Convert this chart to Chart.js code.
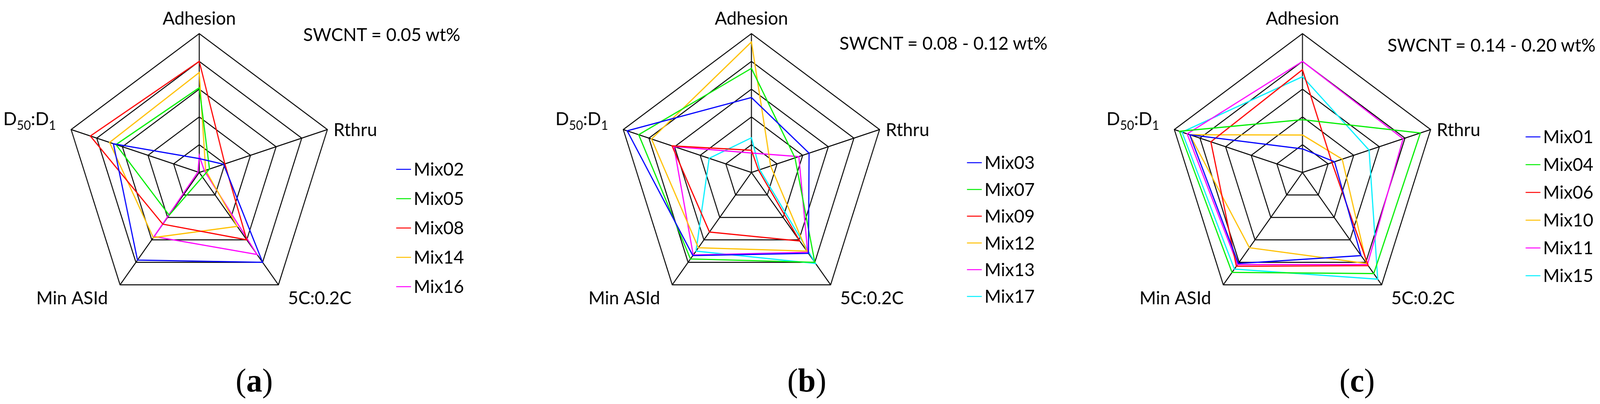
<!DOCTYPE html>
<html>
<head>
<meta charset="utf-8">
<title>SWCNT radar charts</title>
<script src="https://cdn.jsdelivr.net/npm/chart.js@4.4.1/dist/chart.umd.min.js"></script>
<style>
	html, body { margin: 0; padding: 0; background: #fff; overflow: hidden; }
	#stage { position: absolute; left: 0; top: 0; width: 4216px; height: 1033px; transform-origin: 0 0; }
	.panel { position: absolute; top: 0; height: 1033px; }
	#overlay { position: absolute; left: 0; top: 0; }
</style>
</head>
<body>
<div id="stage">
	<div class="panel" id="panelA" style="left:0px;width:1405px;"><canvas id="chartA"></canvas></div>
	<div class="panel" id="panelB" style="left:1405px;width:1405px;"><canvas id="chartB"></canvas></div>
	<div class="panel" id="panelC" style="left:2810px;width:1406px;"><canvas id="chartC"></canvas></div>
	<svg id="overlay" width="4216" height="1033" xmlns="http://www.w3.org/2000/svg"></svg>
</div>

<script>
// axes, clockwise from the top
var axisLabels = ['Adhesion', 'Rthru', '5C:0.2C', 'Min ASId', 'D50:D1'];
var gridTicks = [0, 0.2, 0.4, 0.6, 0.8, 1.0];

// (a) SWCNT = 0.05 wt%
var titleA = 'SWCNT = 0.05 wt%';
var namesA = ['Mix02', 'Mix05', 'Mix08', 'Mix14', 'Mix16'];
var mix02 = [0.10, 0.19, 0.80, 0.78, 0.67];
var mix05 = [0.61, 0.08, 0.04, 0.38, 0.65];
var mix08 = [0.80, 0.20, 0.60, 0.46, 0.85];
var mix14 = [0.72, 0.05, 0.48, 0.58, 0.70];
var mix16 = [0.12, 0.04, 0.73, 0.57, 0.01];

// (b) SWCNT = 0.08 - 0.12 wt%
var titleB = 'SWCNT = 0.08 - 0.12 wt%';
var namesB = ['Mix03', 'Mix07', 'Mix09', 'Mix12', 'Mix13', 'Mix17'];
var mix03 = [0.54, 0.45, 0.72, 0.74, 0.97];
var mix07 = [0.75, 0.34, 0.80, 0.77, 0.88];
var mix09 = [0.16, 0.055, 0.61, 0.53, 0.62];
var mix12 = [0.94, 0.15, 0.70, 0.67, 0.78];
var mix13 = [0.14, 0.37, 0.71, 0.735, 0.605];
var mix17 = [0.25, 0.065, 0.81, 0.70, 0.33];

// (c) SWCNT = 0.14 - 0.20 wt%
var titleC = 'SWCNT = 0.14 - 0.20 wt%';
var namesC = ['Mix01', 'Mix04', 'Mix06', 'Mix10', 'Mix11', 'Mix15'];
var mix01 = [0.17, 0.25, 0.74, 0.81, 0.88];
var mix04 = [0.38, 0.92, 0.90, 0.89, 0.96];
var mix06 = [0.74, 0.23, 0.83, 0.835, 0.715];
var mix10 = [0.27, 0.31, 0.81, 0.67, 0.88];
var mix11 = [0.80, 0.785, 0.82, 0.82, 0.90];
var mix15 = [0.69, 0.52, 0.95, 0.86, 0.94];

var BLUE = '#0000ff', GREEN = '#00ee00', RED = '#ff0000',
	YELLOW = '#ffc000', MAGENTA = '#ff00ff', CYAN = '#00f0ff';

var FONT = 'Lato, "Liberation Sans", sans-serif';
var RADIUS = 355;

var panels = [
	{ canvas: 'chartA', left: 0, width: 1405, cx: 525, cy: 441,
	  names: namesA, series: [mix02, mix05, mix08, mix14, mix16],
	  colors: [BLUE, GREEN, RED, YELLOW, MAGENTA],
	  title: titleA, titleX: 799, titleY: 105,
	  legendX: 1044, legendY: 433, legendStep: 75,
	  caption: 'a', captionX: 670 },
	{ canvas: 'chartB', left: 1405, width: 1405, cx: 575, cy: 441,
	  names: namesB, series: [mix03, mix07, mix09, mix12, mix13, mix17],
	  colors: [BLUE, GREEN, RED, YELLOW, MAGENTA, CYAN],
	  title: titleB, titleX: 2212, titleY: 127,
	  legendX: 2548, legendY: 416, legendStep: 68.4,
	  caption: 'b', captionX: 2126 },
	{ canvas: 'chartC', left: 2810, width: 1406, cx: 622, cy: 441,
	  names: namesC, series: [mix01, mix04, mix06, mix10, mix11, mix15],
	  colors: [BLUE, GREEN, RED, YELLOW, MAGENTA, CYAN],
	  title: titleC, titleX: 3656, titleY: 132,
	  legendX: 4020, legendY: 350, legendStep: 71,
	  caption: 'c', captionX: 3576 }
];

// fit the 4216x1033 stage into whatever window we get
var stage = document.getElementById('stage');
var sx = window.innerWidth / 4216, sy = window.innerHeight / 1033;
if (Math.abs(sx - 1) > 0.001 || Math.abs(sy - 1) > 0.001) {
	stage.style.transform = 'scale(' + sx + ',' + sy + ')';
}

// draws "D50:D1" with the digits after D as subscripts
function drawRichLabel(ctx, text, x, y, align) {
	var parts = [];
	var re = /D(\d+)/g, last = 0, m;
	while ((m = re.exec(text)) !== null) {
		parts.push({ t: text.slice(last, m.index) + 'D', sub: false });
		parts.push({ t: m[1], sub: true });
		last = m.index + m[0].length;
	}
	if (last < text.length) parts.push({ t: text.slice(last), sub: false });

	var total = 0;
	parts.forEach(function (p) {
		ctx.font = (p.sub ? '32px ' : '47px ') + FONT;
		p.w = ctx.measureText(p.t).width;
		total += p.w;
	});
	var start = x;
	if (align === 'right') start = x - total;
	if (align === 'center') start = x - total / 2;

	ctx.textAlign = 'left';
	ctx.textBaseline = 'alphabetic';
	parts.forEach(function (p) {
		ctx.font = (p.sub ? '32px ' : '47px ') + FONT;
		ctx.fillText(p.t, start, p.sub ? y + 12 : y);
		start += p.w;
	});
}

var axisLabelPlugin = {
	id: 'axisLabels',
	afterDraw: function (chart) {
		var ctx = chart.ctx;
		var scale = chart.scales.r;
		ctx.save();
		ctx.fillStyle = '#000';
		for (var i = 0; i < axisLabels.length; i++) {
			var p = scale.getPointPositionForValue(i, scale.max);
			var x = p.x, y = p.y, align = 'center';
			if (i === 0) { y -= 23; }
			else if (i === 1) { x += 16; y += 17; align = 'left'; }
			else if (i === 2) { x += 25; y += 50; align = 'left'; }
			else if (i === 3) { x -= 32; y += 50; align = 'right'; }
			else { x -= 40; y -= 11; align = 'right'; }
			drawRichLabel(ctx, axisLabels[i], x, y, align);
		}
		ctx.restore();
	}
};

function makeChart(panel) {
	var datasets = [];
	for (var i = 0; i < panel.series.length; i++) {
		datasets.push({
			label: panel.names[i],
			data: panel.series[i],
			borderColor: panel.colors[i],
			backgroundColor: panel.colors[i],
			borderWidth: 3,
			fill: false,
			pointRadius: 0,
			pointHoverRadius: 0
		});
	}

	return new Chart(document.getElementById(panel.canvas), {
		type: 'radar',
		data: { labels: axisLabels, datasets: datasets },
		options: {
			responsive: true,
			maintainAspectRatio: false,
			animation: false,
			layout: {
				padding: {
					left: panel.cx - RADIUS,
					right: panel.width - panel.cx - RADIUS,
					top: panel.cy - RADIUS,
					bottom: 1033 - panel.cy - RADIUS
				}
			},
			plugins: {
				legend: { display: false },
				tooltip: { enabled: false },
				title: { display: false }
			},
			elements: { line: { tension: 0 } },
			scales: {
				r: {
					min: 0,
					max: 1,
					afterBuildTicks: function (scale) {
						scale.ticks = gridTicks.map(function (v) { return { value: v }; });
					},
					ticks: { display: false, showLabelBackdrop: false },
					pointLabels: { display: false },
					grid: { color: '#000', lineWidth: 2.5 },
					angleLines: { color: '#000', lineWidth: 2.5 }
				}
			}
		},
		plugins: [axisLabelPlugin]
	});
}

// titles, legends and captions as svg text
var svgNS = 'http://www.w3.org/2000/svg';
var overlay = document.getElementById('overlay');

function svgEl(tag, attrs, text) {
	var el = document.createElementNS(svgNS, tag);
	for (var k in attrs) el.setAttribute(k, attrs[k]);
	if (text !== undefined) el.textContent = text;
	overlay.appendChild(el);
	return el;
}

panels.forEach(function (panel) {
	makeChart(panel);

	svgEl('text', { x: panel.titleX, y: panel.titleY, 'font-family': FONT, 'font-size': 47, fill: '#000' }, panel.title);

	for (var i = 0; i < panel.names.length; i++) {
		var ly = panel.legendY + i * panel.legendStep;
		svgEl('line', { x1: panel.legendX, x2: panel.legendX + 39, y1: ly, y2: ly,
			stroke: panel.colors[i], 'stroke-width': 2.5 });
		svgEl('text', { x: panel.legendX + 46, y: ly + 16.5, 'font-family': FONT, 'font-size': 47, fill: '#000' },
			panel.names[i]);
	}

	var cap = svgEl('text', { x: panel.captionX, y: 1001, 'text-anchor': 'middle',
		'font-family': '"Liberation Serif", "DejaVu Serif", serif', 'font-size': 84, fill: '#000' });
	var t1 = document.createElementNS(svgNS, 'tspan'); t1.textContent = '(';
	var t2 = document.createElementNS(svgNS, 'tspan'); t2.textContent = panel.caption; t2.setAttribute('font-weight', 'bold');
	var t3 = document.createElementNS(svgNS, 'tspan'); t3.textContent = ')';
	cap.appendChild(t1); cap.appendChild(t2); cap.appendChild(t3);
});
</script>
</body>
</html>
